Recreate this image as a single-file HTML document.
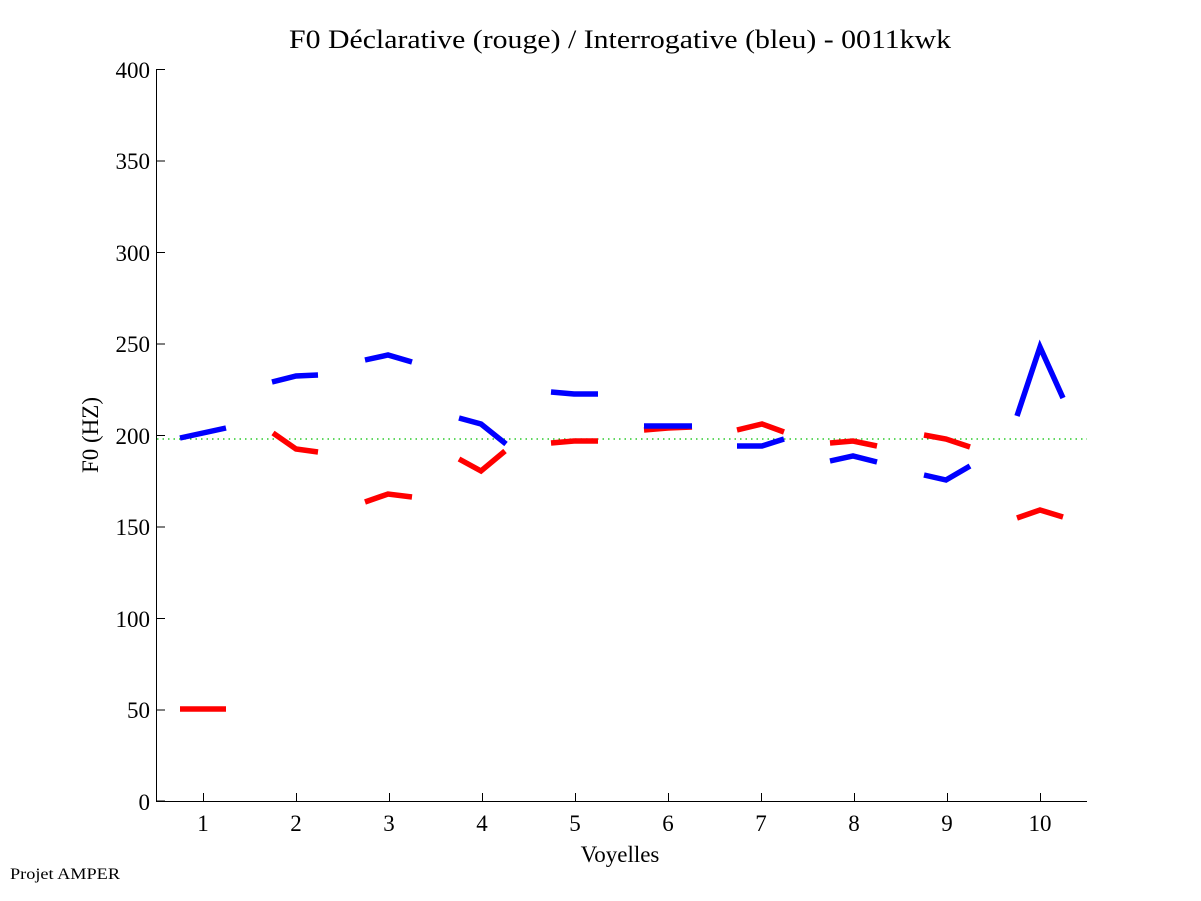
<!DOCTYPE html>
<html><head><meta charset="utf-8"><style>body{margin:0;background:#fff}svg{display:block}</style></head><body>
<svg width="1201" height="901" xmlns="http://www.w3.org/2000/svg" font-family="Liberation Serif, serif">
<rect width="1201" height="901" fill="#fff"/>
<text x="620" y="48" font-size="26" text-anchor="middle" textLength="662" lengthAdjust="spacingAndGlyphs">F0 Déclarative (rouge) / Interrogative (bleu) - 0011kwk</text>
<g stroke="#000" stroke-width="1" fill="none">
<line x1="156.5" y1="69" x2="156.5" y2="801.5"/>
<line x1="156" y1="801.5" x2="1087" y2="801.5"/>
<path d="M157 69.5h8M157 161h8M157 252.5h8M157 344h8M157 435.5h8M157 527h8M157 618.5h8M157 710h8M157 801h8"/>
<path d="M203.5 801v-8M296.5 801v-8M389.5 801v-8M482.5 801v-8M575.5 801v-8M668.5 801v-8M761.5 801v-8M854.5 801v-8M947.5 801v-8M1040.5 801v-8"/>
</g>
<g font-size="23" text-anchor="end">
<text x="150" y="78">400</text><text x="150" y="169">350</text><text x="150" y="261">300</text><text x="150" y="352">250</text><text x="150" y="444">200</text><text x="150" y="535">150</text><text x="150" y="627">100</text><text x="150" y="718">50</text><text x="150" y="810">0</text>
</g>
<g font-size="23" text-anchor="middle">
<text x="203" y="831">1</text><text x="296" y="831">2</text><text x="389" y="831">3</text><text x="482" y="831">4</text><text x="575" y="831">5</text><text x="668" y="831">6</text><text x="761" y="831">7</text><text x="854" y="831">8</text><text x="947" y="831">9</text><text x="1040" y="831">10</text>
<text x="620" y="862">Voyelles</text>
<text transform="translate(98,435) rotate(-90)">F0 (HZ)</text>
</g>
<text x="10" y="879" font-size="16" textLength="110" lengthAdjust="spacingAndGlyphs">Projet AMPER</text>
<line x1="157" y1="439" x2="1087" y2="439" stroke="#00c000" stroke-width="1.3" stroke-dasharray="1.5,4"/>
<g fill="none" stroke-width="5.5" stroke-linejoin="miter">
<g stroke="#f00">
<path d="M180 709L226 709"/>
<path d="M273 433L296 449L318 452"/>
<path d="M365 502L388 494L412 497"/>
<path d="M459 459L481 471L505 451"/>
<path d="M551 443L574 441L598 441"/>
<path d="M644 430L668 428L692 427"/>
<path d="M737 430L762 424L784 432"/>
<path d="M830 443L853 441L877 446"/>
<path d="M924 435L946 439L970 447"/>
<path d="M1017 518L1040 510L1063 517"/>
</g>
<g stroke="#00f">
<path d="M180 438L203 433L226 428"/>
<path d="M272 382L296 376L318 375"/>
<path d="M365 360L388 355L412 362"/>
<path d="M459 418L481 424L506 444"/>
<path d="M551 392L574 394L598 394"/>
<path d="M644 426L668 426L692 426"/>
<path d="M737 446L762 446L784 439"/>
<path d="M830 461L853 456L877 462"/>
<path d="M924 475L946 480L970 466"/>
<path d="M1017 416L1040 347L1063 398"/>
</g>
</g>
</svg>
</body></html>
